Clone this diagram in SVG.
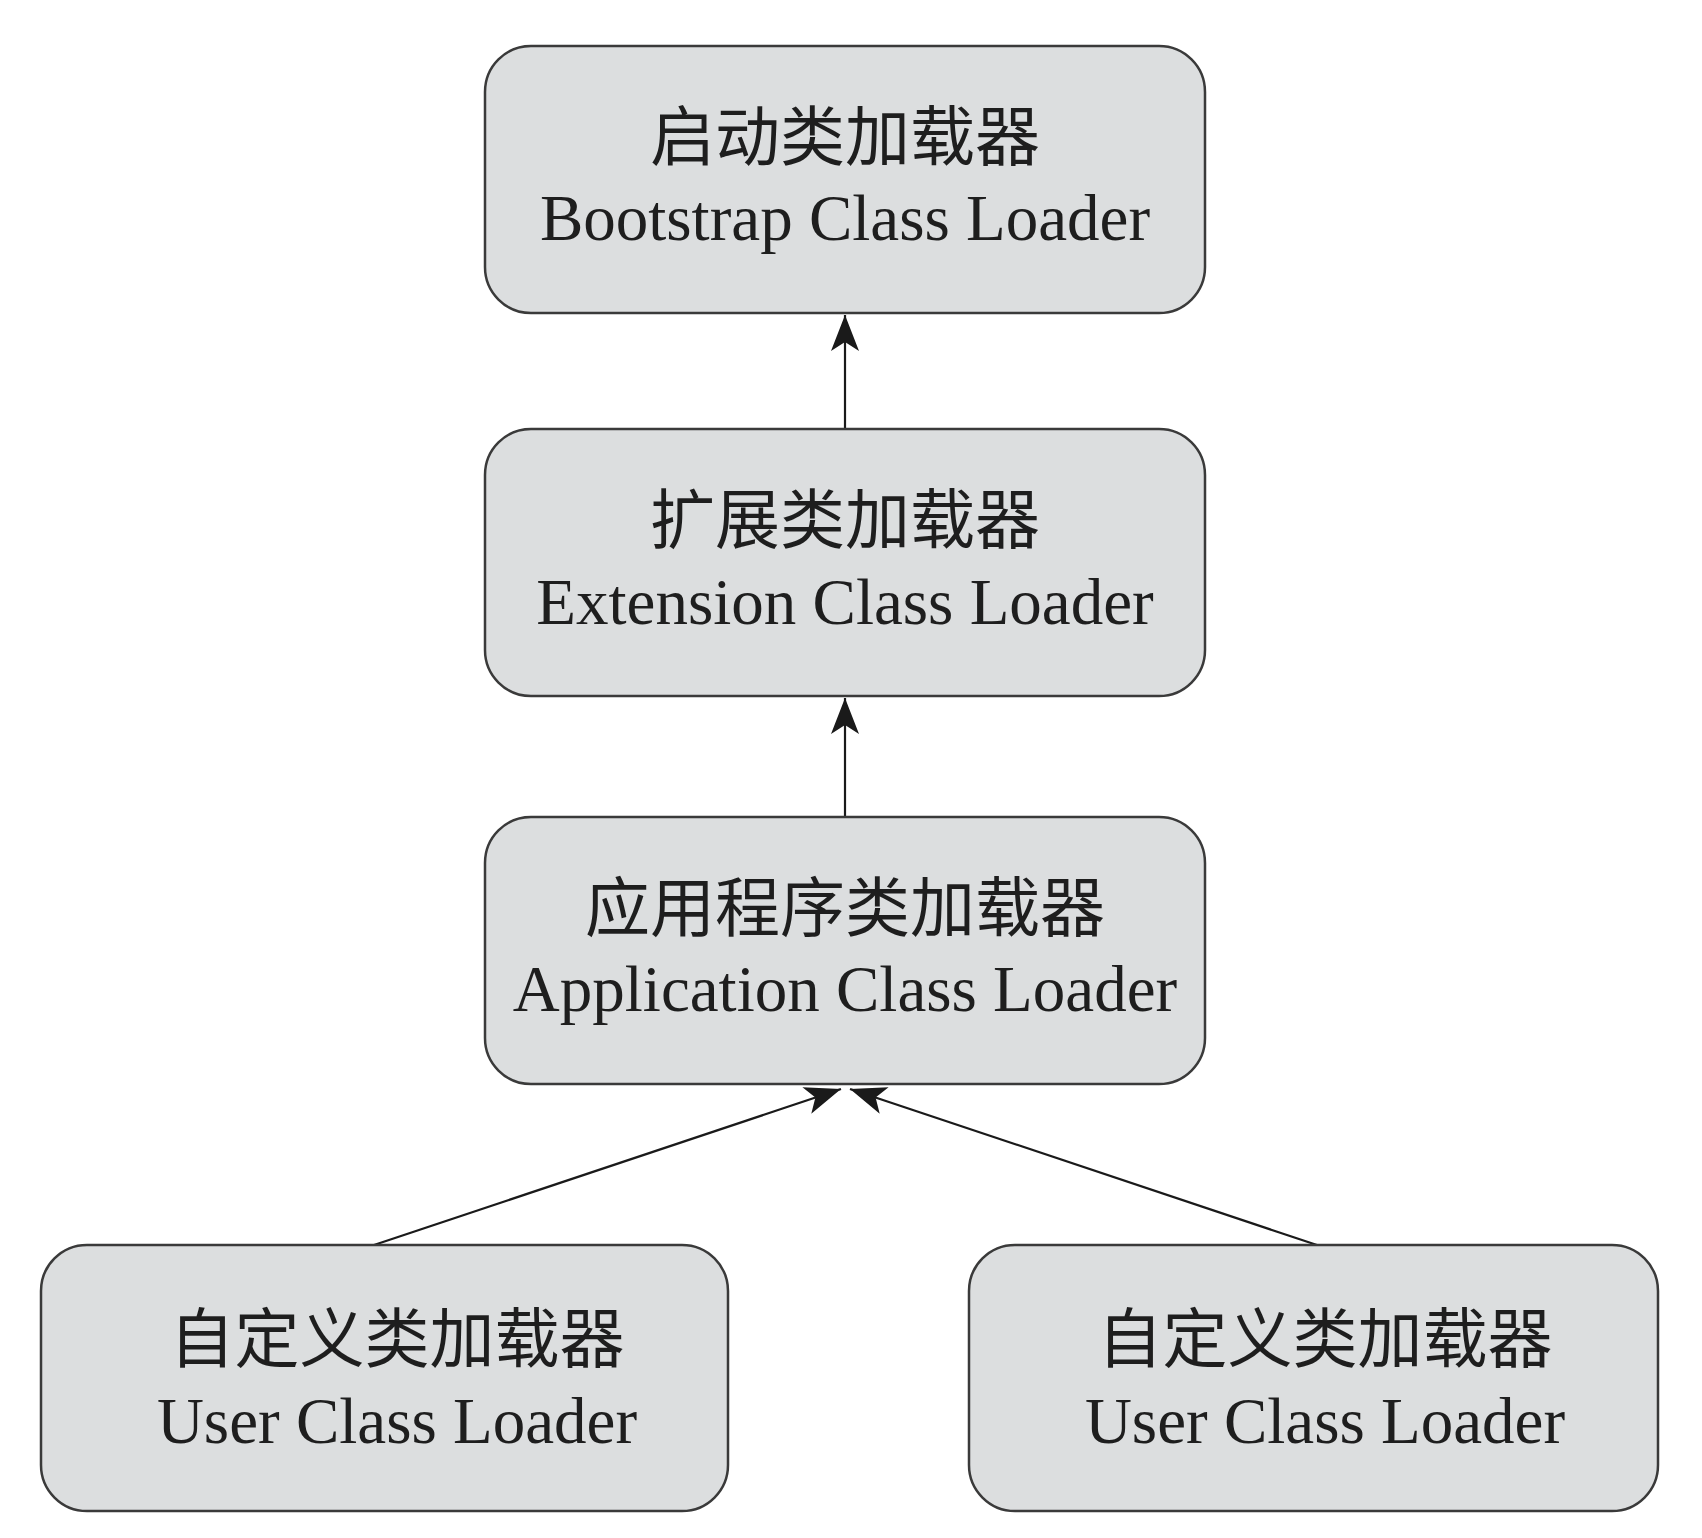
<svg xmlns="http://www.w3.org/2000/svg" width="1702" height="1538" viewBox="0 0 1702 1538">
<style>
.box{fill:#dcdedf;stroke:#3a3a3a;stroke-width:2.5}
.zh{font-family:"Noto Sans CJK SC","Liberation Serif",sans-serif;font-size:65px;fill:#1e1e1e;text-anchor:middle}
.en{font-family:"Liberation Serif","Noto Sans CJK SC",serif;font-size:65px;fill:#1e1e1e;text-anchor:middle}
.conn{stroke:#1a1a1a;stroke-width:2.2;fill:none;marker-end:url(#ah)}
</style>
<defs>
<marker id="ah" markerUnits="userSpaceOnUse" viewBox="-40 -18 42 36" refX="0" refY="0" markerWidth="42" markerHeight="36" orient="auto">
<path d="M0,0 L-36,-14 L-27,0 L-36,14 Z" fill="#1a1a1a"/>
</marker>
</defs>
<rect width="1702" height="1538" fill="#ffffff"/>
<g id="connectors">
<line class="conn" x1="845" y1="429" x2="845" y2="315"/>
<line class="conn" x1="845" y1="817" x2="845" y2="698"/>
<line class="conn" x1="374" y1="1245" x2="841" y2="1089"/>
<line class="conn" x1="1317" y1="1245" x2="850" y2="1089"/>
</g>
<g id="bootstrap">
<rect class="box" x="485" y="46" width="720" height="267" rx="46"/>
<text class="zh" x="845" y="160">启动类加载器</text>
<text class="en" x="845" y="240">Bootstrap Class Loader</text>
</g>
<g id="extension">
<rect class="box" x="485" y="429" width="720" height="267" rx="46"/>
<text class="zh" x="845" y="543">扩展类加载器</text>
<text class="en" x="845" y="624">Extension Class Loader</text>
</g>
<g id="application">
<rect class="box" x="485" y="817" width="720" height="267" rx="46"/>
<text class="zh" x="845" y="931">应用程序类加载器</text>
<text class="en" x="845" y="1011">Application Class Loader</text>
</g>
<g id="user1">
<rect class="box" x="41" y="1245" width="687" height="266" rx="46"/>
<text class="zh" x="397" y="1362">自定义类加载器</text>
<text class="en" x="397" y="1443">User Class Loader</text>
</g>
<g id="user2">
<rect class="box" x="969" y="1245" width="689" height="266" rx="46"/>
<text class="zh" x="1325" y="1362">自定义类加载器</text>
<text class="en" x="1325" y="1443">User Class Loader</text>
</g>
</svg>
